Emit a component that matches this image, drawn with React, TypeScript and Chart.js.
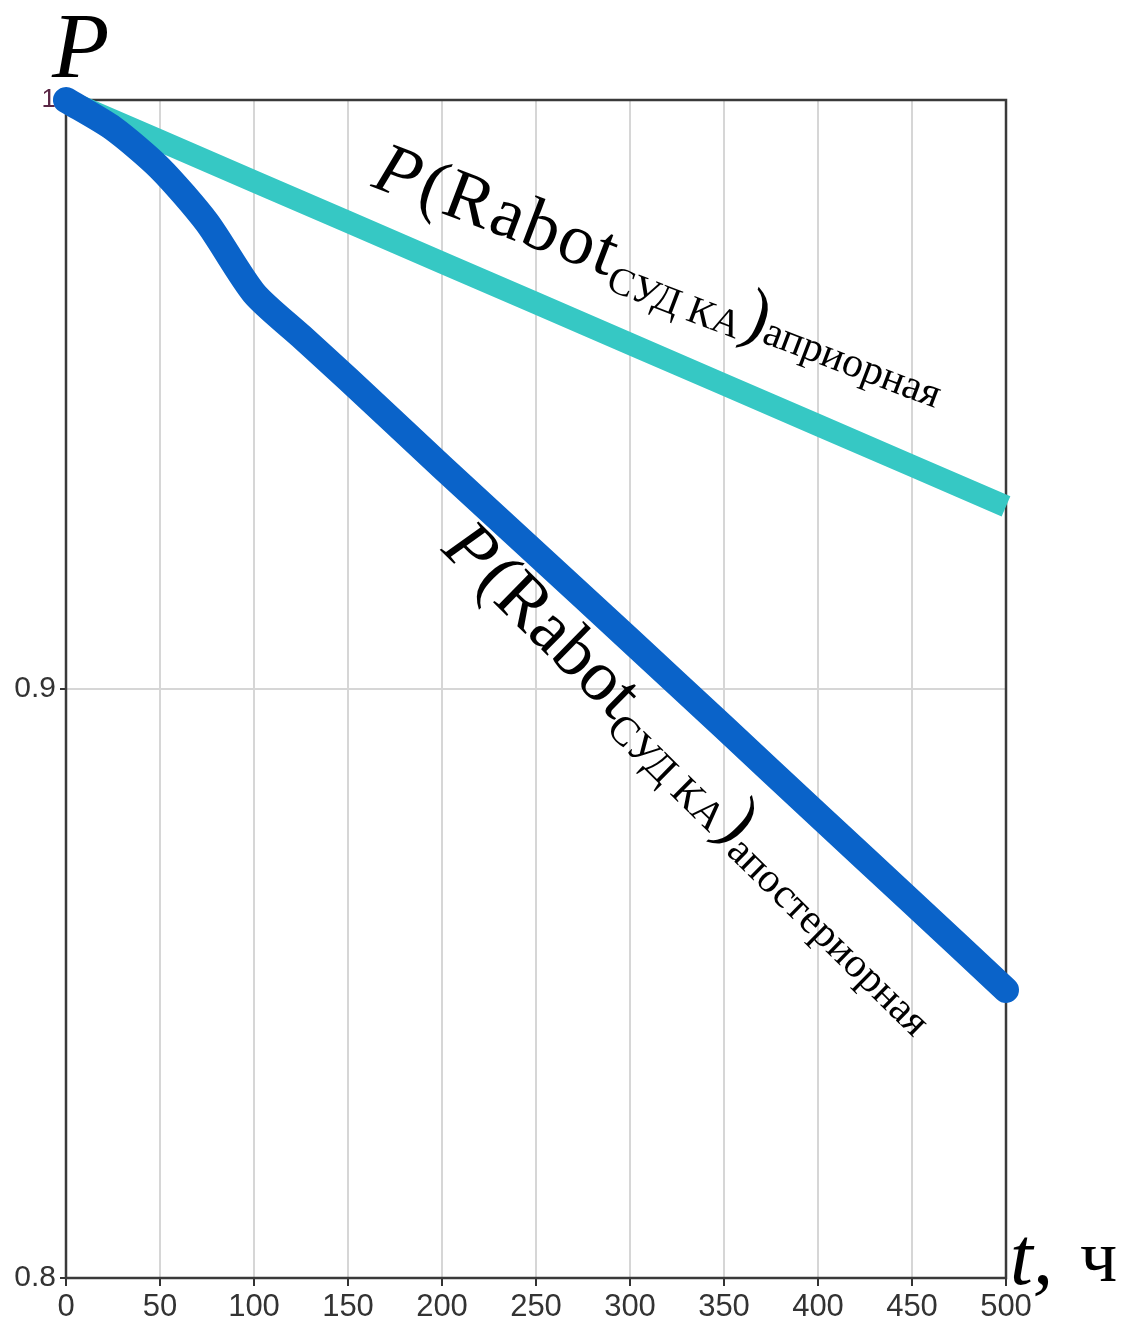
import React, { useEffect, useRef } from "react";
import { Chart, registerables } from "chart.js";

Chart.register(...registerables);

// ---- data ----
const aprioriT = [0, 50, 100, 150, 200, 250, 300, 350, 400, 450, 500];
const aprioriP = [1.0, 0.9931, 0.9862, 0.9793, 0.9724, 0.9655, 0.9586, 0.9517, 0.9448, 0.9379, 0.931];

const aposterioriT = [0, 25, 50, 75, 100, 125, 150, 200, 250, 300, 350, 400, 450, 500];
const aposterioriP = [1.0, 0.9952, 0.9884, 0.9792, 0.9672, 0.9599, 0.9526, 0.9377, 0.923, 0.9083, 0.8935, 0.8786, 0.8638, 0.8489];

const xTicks = [0, 50, 100, 150, 200, 250, 300, 350, 400, 450, 500];
const yTicks = [0.8, 0.9, 1.0];

const yAxisTitle = "P";
const xAxisTitle = "t,";
const xAxisUnit = "ч";
const labelMain = ["P", "(Rabot", "СУД КА", ")"];
const labelApriori = "априорная";
const labelAposteriori = "апостериорная";

const LIGHT = "#36C8C4";
const DARK = "#0A63C9";
const SERIF = "'Liberation Serif', 'Times New Roman', serif";
const SANS = "'Liberation Sans Narrow', 'Arial Narrow', 'Liberation Sans', sans-serif";

type Part = { text: string; font: string; dy: number; gap?: number; ls?: number };

function drawRich(ctx: CanvasRenderingContext2D, x: number, y: number, angle: number, parts: Part[]) {
  ctx.save();
  ctx.translate(x, y);
  ctx.rotate((angle * Math.PI) / 180);
  ctx.fillStyle = "#000";
  ctx.textAlign = "left";
  ctx.textBaseline = "alphabetic";
  let cx = 0;
  for (const p of parts) {
    ctx.font = p.font;
    (ctx as any).letterSpacing = `${p.ls || 0}px`;
    ctx.fillText(p.text, cx, p.dy);
    cx += ctx.measureText(p.text).width + (p.gap || 0);
  }
  ctx.restore();
}

function labelParts(sub: string, ls: number, subSize: number, tailDy: number): Part[] {
  return [
    { text: labelMain[0], font: `italic 72px ${SERIF}`, dy: 0, gap: 4 },
    { text: labelMain[1], font: `72px ${SERIF}`, dy: 0, ls },
    { text: labelMain[2], font: `${subSize}px ${SERIF}`, dy: 13, gap: 1 },
    { text: labelMain[3], font: `72px ${SERIF}`, dy: 6 },
    { text: sub, font: `42px ${SERIF}`, dy: tailDy },
  ];
}

const boxPlugin = {
  id: "box",
  beforeDatasetsDraw(chart: any) {
    const { ctx, chartArea: a } = chart;
    ctx.save();
    ctx.strokeStyle = "#3a3a3a";
    ctx.lineWidth = 2.5;
    ctx.strokeRect(a.left, a.top, a.right - a.left, a.bottom - a.top);
    ctx.restore();
  },
  afterDraw(chart: any) {
    const { ctx } = chart;
    ctx.save();
    ctx.fillStyle = "#000";
    ctx.font = `italic 94px ${SERIF}`;
    ctx.fillText(yAxisTitle, 52, 77);
    ctx.font = `italic 82px ${SERIF}`;
    ctx.fillText(xAxisTitle, 1010, 1284);
    ctx.font = `74px ${SERIF}`;
    ctx.fillText(xAxisUnit, 1080, 1281);
    ctx.restore();
    drawRich(ctx, 370, 186, 20.8, labelParts(labelApriori, 2, 39, 7));
    drawRich(ctx, 440, 550, 44.5, labelParts(labelAposteriori, 0, 41, 16));
  },
};

export default function App() {
  const ref = useRef<HTMLCanvasElement | null>(null);
  useEffect(() => {
    if (!ref.current) return;
    const chart = new Chart(ref.current, {
      type: "line",
      data: {
        datasets: [
          {
            label: "aposteriori",
            data: aposterioriT.map((t, i) => ({ x: t, y: aposterioriP[i] })),
            borderColor: DARK,
            borderWidth: 26,
            pointRadius: 0,
            borderCapStyle: "round",
            borderJoinStyle: "round",
            clip: false as any,
            tension: 0.25,
          },
          {
            label: "apriori",
            data: aprioriT.map((t, i) => ({ x: t, y: aprioriP[i] })),
            borderColor: LIGHT,
            borderWidth: 22,
            pointRadius: 0,
            borderCapStyle: "butt",
            clip: false as any,
            tension: 0,
          },
        ],
      },
      options: {
        animation: false,
        responsive: false,
        devicePixelRatio: 1,
        layout: { padding: { top: 100, right: 118, left: 0, bottom: 0 } },
        plugins: { legend: { display: false }, tooltip: { enabled: false } },
        scales: {
          x: {
            type: "linear",
            min: 0,
            max: 500,
            afterBuildTicks: (s: any) => {
              s.ticks = xTicks.map((v) => ({ value: v }));
            },
            afterFit: (s: any) => {
              s.height = 46;
            },
            grid: { color: "#d6d6d6", lineWidth: 2, tickColor: "#333", tickLength: 8 },
            border: { display: false },
            ticks: {
              padding: 3,
              maxRotation: 0,
              color: "#333",
              font: { family: SANS, size: 31 },
            },
          },
          y: {
            type: "linear",
            min: 0.8,
            max: 1.0,
            afterBuildTicks: (s: any) => {
              s.ticks = yTicks.map((v) => ({ value: v }));
            },
            afterFit: (s: any) => {
              s.width = 66;
            },
            grid: { color: "#d6d6d6", lineWidth: 2, tickColor: "#333", tickLength: 6 },
            border: { display: false },
            ticks: {
              padding: 4,
              color: (c: any) => (c.tick && Math.abs(c.tick.value - 1) < 1e-9 ? "#5a2645" : "#333"),
              font: (c: any) => ({
                family: SANS,
                size: c.tick && Math.abs(c.tick.value - 1) < 1e-9 ? 26 : 30,
              }),
              callback: (v: any) => (Math.abs(v - 1) < 1e-9 ? "1" : Number(v).toFixed(1)),
            },
          },
        },
      },
      plugins: [boxPlugin],
    });
    return () => chart.destroy();
  }, []);
  return (
    <div style={{ position: "fixed", left: 0, top: 0, width: 1124, height: 1324, background: "#fff" }}>
      <canvas ref={ref} width={1124} height={1324} style={{ display: "block" }} />
    </div>
  );
}
